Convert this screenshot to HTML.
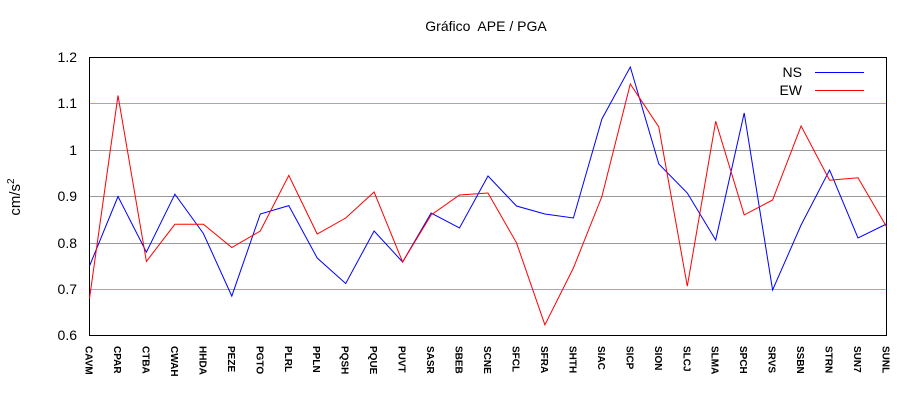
<!DOCTYPE html>
<html><head><meta charset="utf-8"><style>body{margin:0;background:#fff}svg{display:block}</style></head>
<body>
<svg width="920" height="400" xmlns="http://www.w3.org/2000/svg" font-family="Liberation Sans, sans-serif">
<rect width="920" height="400" fill="#fff"/>
<text x="486" y="31" font-size="14" text-anchor="middle" fill="#000" xml:space="preserve">Gráfico  APE / PGA</text>
<g stroke="#999" stroke-width="1">
<line x1="89" x2="886" y1="150.5" y2="150.5"/>
<line x1="89" x2="886" y1="196.5" y2="196.5"/>
<line x1="89" x2="886" y1="243.5" y2="243.5"/>
</g>
<g stroke="#e8a800" stroke-width="1">
<line x1="89" x2="886" y1="103.5" y2="103.5"/>
<line x1="89" x2="886" y1="289.5" y2="289.5"/>
</g>
<rect x="89.5" y="57.5" width="797" height="278" fill="none" stroke="#000" stroke-width="1"/>
<g font-size="14" text-anchor="end" fill="#000">
<text x="77" y="62">1.2</text><text x="77" y="108">1.1</text><text x="77" y="155">1</text>
<text x="77" y="201">0.9</text><text x="77" y="248">0.8</text><text x="77" y="294">0.7</text><text x="77" y="340">0.6</text>
</g>
<text transform="translate(20,197) rotate(-90)" font-size="15" text-anchor="middle">cm/s<tspan font-size="10" dy="-6">2</tspan></text>
<g font-size="10" font-weight="bold" fill="#000">
<text transform="translate(85.5,346) rotate(90)">CAVM</text>
<text transform="translate(114.0,346) rotate(90)">CPAR</text>
<text transform="translate(142.4,346) rotate(90)">CTBA</text>
<text transform="translate(170.9,346) rotate(90)">CWAH</text>
<text transform="translate(199.4,346) rotate(90)">HHDA</text>
<text transform="translate(227.8,346) rotate(90)">PEZE</text>
<text transform="translate(256.3,346) rotate(90)">PGTO</text>
<text transform="translate(284.8,346) rotate(90)">PLRL</text>
<text transform="translate(313.2,346) rotate(90)">PPLN</text>
<text transform="translate(341.7,346) rotate(90)">PQSH</text>
<text transform="translate(370.1,346) rotate(90)">PQUE</text>
<text transform="translate(398.6,346) rotate(90)">PUVT</text>
<text transform="translate(427.1,346) rotate(90)">SASR</text>
<text transform="translate(455.5,346) rotate(90)">SBEB</text>
<text transform="translate(484.0,346) rotate(90)">SCNE</text>
<text transform="translate(512.5,346) rotate(90)">SFCL</text>
<text transform="translate(540.9,346) rotate(90)">SFRA</text>
<text transform="translate(569.4,346) rotate(90)">SHTH</text>
<text transform="translate(597.9,346) rotate(90)">SIAC</text>
<text transform="translate(626.3,346) rotate(90)">SICP</text>
<text transform="translate(654.8,346) rotate(90)">SION</text>
<text transform="translate(683.3,346) rotate(90)">SLCJ</text>
<text transform="translate(711.7,346) rotate(90)">SLMA</text>
<text transform="translate(740.2,346) rotate(90)">SPCH</text>
<text transform="translate(768.6,346) rotate(90)">SRVS</text>
<text transform="translate(797.1,346) rotate(90)">SSBN</text>
<text transform="translate(825.6,346) rotate(90)">STRN</text>
<text transform="translate(854.0,346) rotate(90)">SUN7</text>
<text transform="translate(882.5,346) rotate(90)">SUNL</text>
</g>
<polyline fill="none" stroke="#0000ff" stroke-width="1" points="89.5,266.0 118.0,196.5 146.4,252.1 174.9,194.2 203.4,233.5 231.8,296.1 260.3,214.0 288.8,205.6 317.2,258.0 345.7,283.5 374.1,231.0 402.6,262.0 431.1,213.0 459.5,228.0 488.0,176.0 516.5,206.0 544.9,214.0 573.4,218.0 601.9,119.0 630.3,67.0 658.8,164.0 687.3,193.0 715.7,240.0 744.2,113.0 772.6,290.0 801.1,225.0 829.6,170.0 858.0,238.0 886.5,224.0"/>
<polyline fill="none" stroke="#ff0000" stroke-width="1" points="89.5,298.4 118.0,95.5 146.4,261.4 174.9,224.3 203.4,224.3 231.8,247.5 260.3,231.0 288.8,175.4 317.2,234.0 345.7,218.0 374.1,192.0 402.6,262.0 431.1,215.0 459.5,195.0 488.0,193.0 516.5,242.8 544.9,324.8 573.4,268.0 601.9,196.5 630.3,84.0 658.8,127.0 687.3,286.2 715.7,121.3 744.2,214.9 772.6,200.0 801.1,126.0 829.6,180.2 858.0,177.8 886.5,226.6"/>
<text x="802" y="77" font-size="14" text-anchor="end">NS</text>
<line x1="815" x2="864" y1="72.5" y2="72.5" stroke="#0000ff"/>
<text x="802" y="95" font-size="14" text-anchor="end">EW</text>
<line x1="815" x2="864" y1="90.5" y2="90.5" stroke="#ff0000"/>
</svg>
</body></html>
